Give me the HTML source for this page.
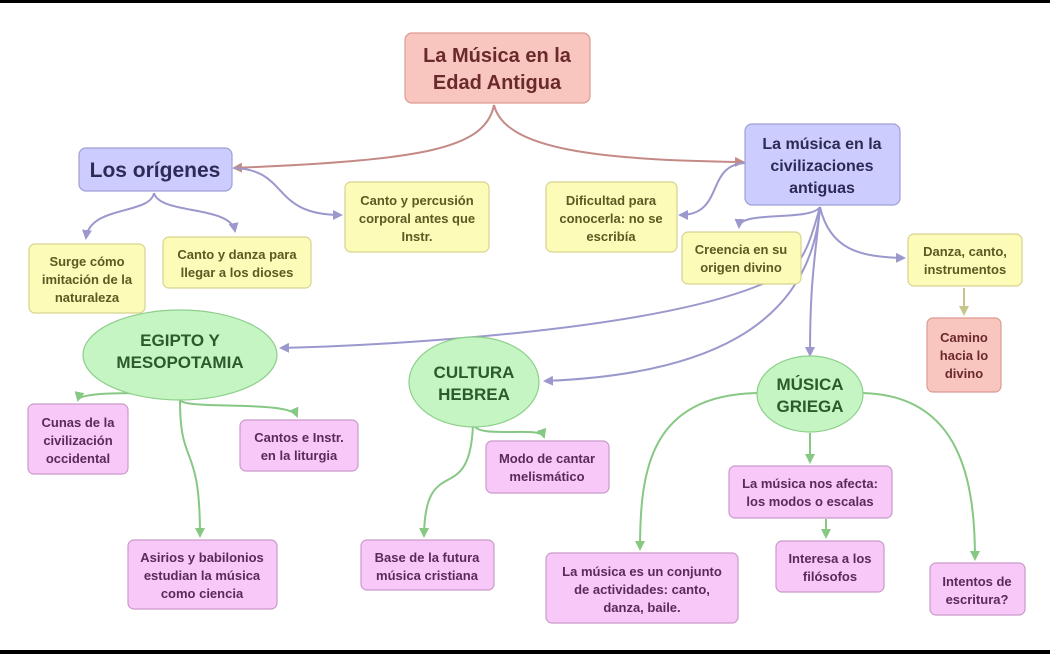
<!DOCTYPE html>
<html><head><meta charset="utf-8"><style>
html,body{margin:0;padding:0;background:#fff}
svg{display:block}
text{font-family:"Liberation Sans",sans-serif;font-weight:bold;text-anchor:middle}
.y{fill:#fcfbb8;stroke:#d6d38f;stroke-width:1.2}
.yt{fill:#5b5a22;font-size:13px}
.p{fill:#f8c8f8;stroke:#c99ac9;stroke-width:1.2}
.pt{fill:#5a2a58;font-size:13px}
.g{fill:#c4f5c2;stroke:#8fcf8c;stroke-width:1.2}
.gt{fill:#2c5a2c;font-size:17px}
.bl{fill:none;stroke:#9a98cc;stroke-width:2}
.gl{fill:none;stroke:#86c884;stroke-width:2}
</style></head><body>
<svg width="1050" height="654" viewBox="0 0 1050 654">
<defs>
<marker id="ab" markerWidth="10" markerHeight="10" refX="8" refY="5" orient="auto" markerUnits="userSpaceOnUse"><path d="M0,0 L10,5 L0,10z" fill="#9a98cc"/></marker>
<marker id="ag" markerWidth="10" markerHeight="10" refX="8" refY="5" orient="auto" markerUnits="userSpaceOnUse"><path d="M0,0 L10,5 L0,10z" fill="#86c884"/></marker>
<marker id="ar" markerWidth="10" markerHeight="10" refX="8" refY="5" orient="auto" markerUnits="userSpaceOnUse"><path d="M0,0 L10,5 L0,10z" fill="#c48a86"/></marker>
<marker id="ay" markerWidth="10" markerHeight="10" refX="8" refY="5" orient="auto" markerUnits="userSpaceOnUse"><path d="M0,0 L10,5 L0,10z" fill="#c6c68a"/></marker>
</defs>
<rect x="0" y="0" width="1050" height="3" fill="#000"/>
<rect x="0" y="650" width="1050" height="4" fill="#000"/>

<!-- connectors -->
<path d="M494,105 C485,150 420,160 234,168" fill="none" stroke="#c48a86" stroke-width="2" marker-end="url(#ar)"/>
<path d="M494,105 C505,150 600,160 743,162" fill="none" stroke="#c48a86" stroke-width="2" marker-end="url(#ar)"/>
<path class="bl" d="M154,193 C150,215 90,205 86,238" marker-end="url(#ab)"/>
<path class="bl" d="M154,193 C160,215 230,205 235,231" marker-end="url(#ab)"/>
<path class="bl" d="M234,168 C290,170 270,215 341,215" marker-end="url(#ab)"/>
<path class="bl" d="M745,163 C705,165 725,215 680,215" marker-end="url(#ab)"/>
<path class="bl" d="M820,207 C810,222 740,210 739,227" marker-end="url(#ab)"/>
<path class="bl" d="M820,207 C830,250 860,257 904,258" marker-end="url(#ab)"/>
<path class="bl" d="M820,207 C815,260 810,280 810,355" marker-end="url(#ab)"/>
<path class="bl" d="M820,207 C810,330 700,375 545,381" marker-end="url(#ab)"/>
<path class="bl" d="M820,207 C805,260 800,270 760,285 C650,330 400,345 281,348" marker-end="url(#ab)"/>
<path d="M964,288 L964,314" fill="none" stroke="#c6c68a" stroke-width="2" marker-end="url(#ay)"/>
<path class="gl" d="M180,400 C175,392 80,390 78,400" marker-end="url(#ag)"/>
<path class="gl" d="M180,400 C185,410 290,400 297,416" marker-end="url(#ag)"/>
<path class="gl" d="M180,400 C180,470 200,440 200,536" marker-end="url(#ag)"/>
<path class="gl" d="M473,424 C478,440 540,425 544,437" marker-end="url(#ag)"/>
<path class="gl" d="M473,424 C470,510 425,450 424,536" marker-end="url(#ag)"/>
<path class="gl" d="M758,393 C650,395 640,470 640,549" marker-end="url(#ag)"/>
<path class="gl" d="M862,393 C960,395 975,480 975,559" marker-end="url(#ag)"/>
<path class="gl" d="M810,433 L810,462" marker-end="url(#ag)"/>
<path class="gl" d="M826,519 L826,537" marker-end="url(#ag)"/>

<!-- root -->
<rect x="405" y="33" width="185" height="70" rx="7" fill="#f8c6be" stroke="#dc9a92" stroke-width="1.2"/>
<text x="497" y="62" font-size="20" fill="#6a2a2a">La Música en la</text>
<text x="497" y="89" font-size="20" fill="#6a2a2a">Edad Antigua</text>

<rect x="79" y="148" width="153" height="43" rx="7" fill="#ccccff" stroke="#9f9fd8" stroke-width="1.2"/>
<text x="155" y="177" font-size="21" fill="#2b2b55">Los orígenes</text>

<rect x="745" y="124" width="155" height="81" rx="7" fill="#ccccff" stroke="#9f9fd8" stroke-width="1.2"/>
<text x="822" y="149" font-size="16" fill="#2b2b55">La música en la</text>
<text x="822" y="171" font-size="16" fill="#2b2b55">civilizaciones</text>
<text x="822" y="193" font-size="16" fill="#2b2b55">antiguas</text>

<!-- yellow -->
<rect class="y" x="345" y="182" width="144" height="70" rx="6"/>
<text class="yt" x="417" y="205">Canto y percusión</text><text class="yt" x="417" y="223">corporal antes que</text><text class="yt" x="417" y="241">Instr.</text>
<rect class="y" x="29" y="244" width="116" height="69" rx="6"/>
<text class="yt" x="87" y="266">Surge cómo</text><text class="yt" x="87" y="284">imitación de la</text><text class="yt" x="87" y="302">naturaleza</text>
<rect class="y" x="163" y="237" width="148" height="51" rx="6"/>
<text class="yt" x="237" y="259">Canto y danza para</text><text class="yt" x="237" y="277">llegar a los dioses</text>
<rect class="y" x="546" y="182" width="131" height="70" rx="6"/>
<text class="yt" x="611" y="205">Dificultad para</text><text class="yt" x="611" y="223">conocerla: no se</text><text class="yt" x="611" y="241">escribía</text>
<rect class="y" x="682" y="232" width="119" height="52" rx="6"/>
<text class="yt" x="741" y="254">Creencia en su</text><text class="yt" x="741" y="272">origen divino</text>
<rect class="y" x="908" y="234" width="114" height="52" rx="6"/>
<text class="yt" x="965" y="256">Danza, canto,</text><text class="yt" x="965" y="274">instrumentos</text>
<rect x="927" y="318" width="74" height="74" rx="6" fill="#f8c6be" stroke="#dc9a92" stroke-width="1.2"/>
<text x="964" y="342" font-size="13" fill="#6a2a2a">Camino</text><text x="964" y="360" font-size="13" fill="#6a2a2a">hacia lo</text><text x="964" y="378" font-size="13" fill="#6a2a2a">divino</text>

<!-- ellipses -->
<ellipse class="g" cx="180" cy="355" rx="97" ry="45"/>
<text class="gt" x="180" y="346">EGIPTO Y</text><text class="gt" x="180" y="368">MESOPOTAMIA</text>
<ellipse class="g" cx="474" cy="382" rx="65" ry="45"/>
<text class="gt" x="474" y="378">CULTURA</text><text class="gt" x="474" y="400">HEBREA</text>
<ellipse class="g" cx="810" cy="394" rx="53" ry="38"/>
<text class="gt" x="810" y="390">MÚSICA</text><text class="gt" x="810" y="412">GRIEGA</text>

<!-- pink -->
<rect class="p" x="28" y="404" width="100" height="70" rx="6"/>
<text class="pt" x="78" y="427">Cunas de la</text><text class="pt" x="78" y="445">civilización</text><text class="pt" x="78" y="463">occidental</text>
<rect class="p" x="240" y="420" width="118" height="51" rx="6"/>
<text class="pt" x="299" y="442">Cantos e Instr.</text><text class="pt" x="299" y="460">en la liturgia</text>
<rect class="p" x="128" y="540" width="149" height="69" rx="6"/>
<text class="pt" x="202" y="562">Asirios y babilonios</text><text class="pt" x="202" y="580">estudian la música</text><text class="pt" x="202" y="598">como ciencia</text>
<rect class="p" x="361" y="540" width="133" height="50" rx="6"/>
<text class="pt" x="427" y="562">Base de la futura</text><text class="pt" x="427" y="580">música cristiana</text>
<rect class="p" x="486" y="441" width="123" height="52" rx="6"/>
<text class="pt" x="547" y="463">Modo de cantar</text><text class="pt" x="547" y="481">melismático</text>
<rect class="p" x="729" y="466" width="163" height="52" rx="6"/>
<text class="pt" x="810" y="488">La música nos afecta:</text><text class="pt" x="810" y="506">los modos o escalas</text>
<rect class="p" x="776" y="541" width="108" height="51" rx="6"/>
<text class="pt" x="830" y="563">Interesa a los</text><text class="pt" x="830" y="581">filósofos</text>
<rect class="p" x="546" y="553" width="192" height="70" rx="6"/>
<text class="pt" x="642" y="576">La música es un conjunto</text><text class="pt" x="642" y="594">de actividades: canto,</text><text class="pt" x="642" y="612">danza, baile.</text>
<rect class="p" x="930" y="563" width="95" height="52" rx="6"/>
<text class="pt" x="977" y="586">Intentos de</text><text class="pt" x="977" y="604">escritura?</text>
</svg>
</body></html>
